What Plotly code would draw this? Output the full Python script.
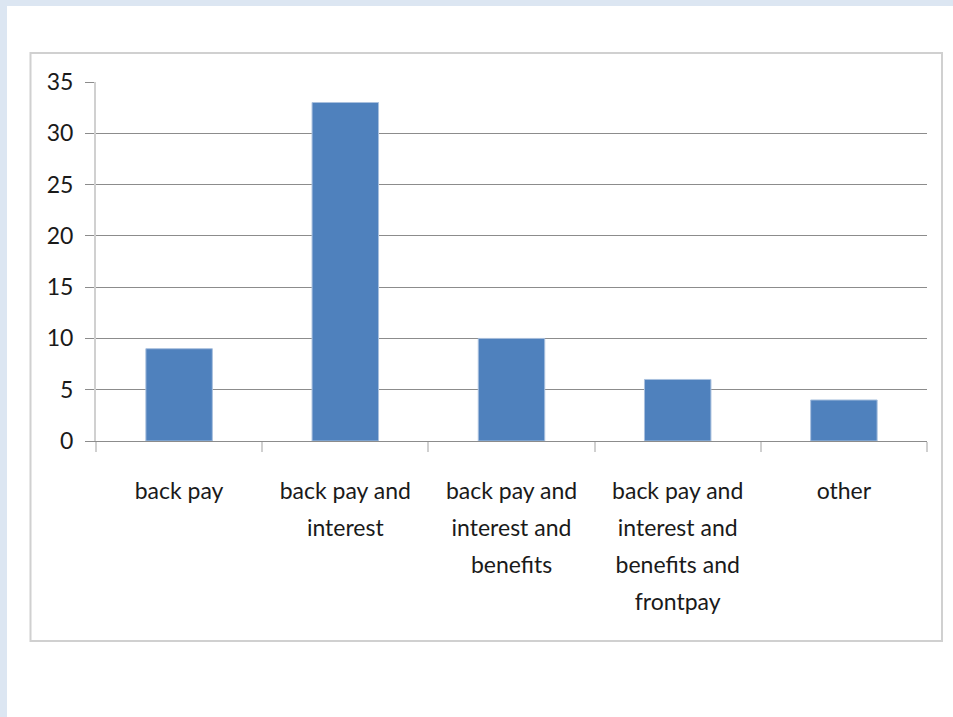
import plotly.graph_objects as go

categories = ["back pay", "back pay and<br>interest", "back pay and<br>interest and<br>benefits",
              "back pay and<br>interest and<br>benefits and<br>frontpay", "other"]
values = [9, 33, 10, 6, 4]
y_ticks = [0, 5, 10, 15, 20, 25, 30, 35]

W, H = 953, 717
L, R, T, B = 96, 927, 82, 441

def px_x(p):
    return (p - L) / (R - L)

def px_y(p):
    return (B - p) / (B - T)

FONT = "Lato, Liberation Sans Narrow, DejaVu Sans Condensed, sans-serif"

# wrap each line in a span so the glyphs stay 23px while the line pitch follows the larger tick font
x_ticktext = ["<br>".join('<span style="font-size:23px">%s</span>' % part for part in c.split("<br>"))
              for c in categories]

fig = go.Figure(go.Bar(
    x=categories, y=values,
    marker=dict(color="#4f81bd", line=dict(color="#a9c0de", width=1)),
    width=0.4,
))

shapes = [
    # light blue frame strips
    dict(type="rect", xref="paper", yref="paper", x0=px_x(0), x1=px_x(7), y0=px_y(0), y1=px_y(H),
         fillcolor="#dce6f2", line=dict(width=0), layer="below"),
    dict(type="rect", xref="paper", yref="paper", x0=px_x(0), x1=px_x(W), y0=px_y(0), y1=px_y(6),
         fillcolor="#dce6f2", line=dict(width=0), layer="below"),
    # chart box border
    dict(type="rect", xref="paper", yref="paper", x0=px_x(30.5), x1=px_x(942), y0=px_y(53), y1=px_y(641),
         fillcolor="rgba(0,0,0,0)", line=dict(color="#d0d0d0", width=2), layer="below"),
]

fig.update_layout(
    width=W, height=H,
    margin=dict(l=L, r=W - R, t=T, b=H - B, pad=0),
    paper_bgcolor="white", plot_bgcolor="white",
    showlegend=False,
    shapes=shapes,
    font=dict(family=FONT, size=23, color="#1a1a1a"),
)
fig.update_yaxes(
    range=[0, 35], tickvals=y_ticks, ticktext=[str(v) for v in y_ticks],
    showgrid=True, gridcolor="#8c8c8c", gridwidth=1,
    showline=True, linecolor="#d0d0d0", linewidth=2,
    ticks="outside", ticklen=9, tickcolor="#8c8c8c", tickwidth=1,
    ticklabelstandoff=7,
    zeroline=False,
    tickfont=dict(family=FONT, size=23, color="#1a1a1a"),
)
fig.update_xaxes(
    tickvals=categories, ticktext=x_ticktext,
    showline=True, linecolor="#8c8c8c", linewidth=1,
    ticks="outside", tickson="boundaries", ticklen=10, tickcolor="#d0d0d0", tickwidth=2,
    ticklabelstandoff=23,
    tickfont=dict(family=FONT, size=28.5, color="#1a1a1a"),
    tickangle=0,
)

fig.write_html("out.html", config={"displayModeBar": False},
               post_script="document.body.style.margin='0';document.body.style.padding='0';")
